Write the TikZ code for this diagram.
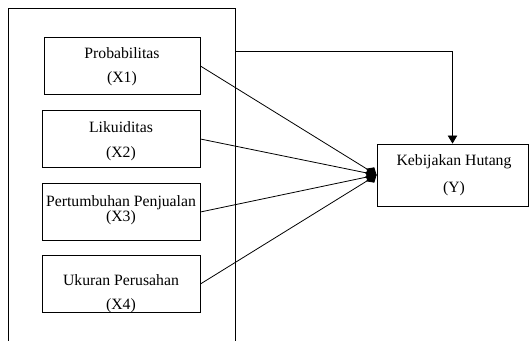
\documentclass[tikz,border=0pt]{standalone}
\usepackage{fontspec}
\setmainfont{Liberation Serif}
\usetikzlibrary{arrows.meta}

\begin{document}
\begin{tikzpicture}[x=0.75pt,y=-0.75pt,line width=0.6pt,
  varbox/.style={draw,minimum height=42.75pt,inner sep=0pt},
  txt/.style={font=\fontsize{11.8}{13}\selectfont,inner sep=0pt}]
\useasboundingbox (0,0) rectangle (530,341);
\draw (8,341)--(8,8)--(235,8)--(235,341);
\node[varbox,minimum width=113.25pt,minimum height=46.5pt] (y) at (452.5,175){};
\node[txt] (ny) at (454,162){Kebijakan Hutang};
\node[txt] (cy) at (454,189){(Y)};
\foreach \n/\lx/\cy/\ya/\yb/\ta/\tb in {1/44/66/53/79/Probabilitas/(X1),2/42/139/127/154/Likuiditas/(X2),3/42/212/203/218/Pertumbuhan Penjualan/(X3),4/42/284/280/306/Ukuran Perusahan/(X4)}{
  \pgfmathsetmacro{\w}{0.75*(200-\lx)}
  \node[varbox,minimum width=\w pt] (x\n) at ({(200+\lx)/2},\cy){};
  \node[txt] (n\n) at ({(200+\lx)/2},\ya){\ta};
  \node[txt] (c\n) at ({(200+\lx)/2},\yb){\tb};
  \draw[-{Diamond[length=9pt,width=8pt]}] (x\n.east)--(y.west);
}
\coordinate (tap) at (235,51);
\draw[-{Triangle[length=6pt,width=7pt]}] (tap) -| (y.north);
\end{tikzpicture}
\end{document}
